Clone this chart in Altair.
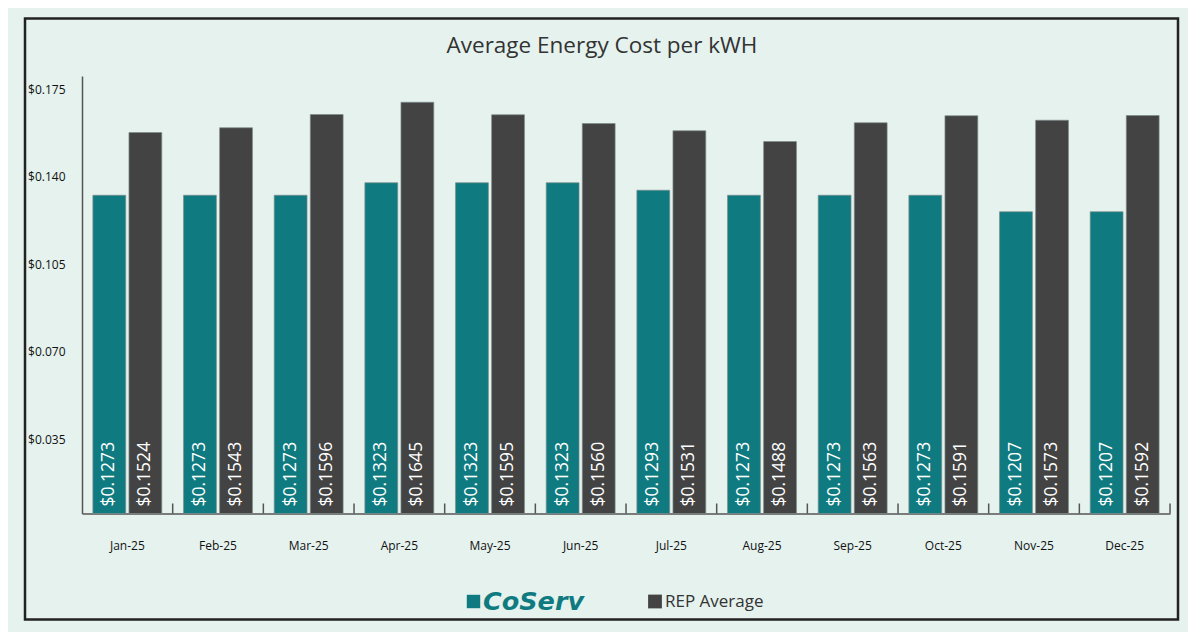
import altair as alt
import pandas as pd

months = ["Jan-25", "Feb-25", "Mar-25", "Apr-25", "May-25", "Jun-25",
          "Jul-25", "Aug-25", "Sep-25", "Oct-25", "Nov-25", "Dec-25"]
coserv = [0.1273, 0.1273, 0.1273, 0.1323, 0.1323, 0.1323,
          0.1293, 0.1273, 0.1273, 0.1273, 0.1207, 0.1207]
rep = [0.1524, 0.1543, 0.1596, 0.1645, 0.1595, 0.1560,
       0.1531, 0.1488, 0.1563, 0.1591, 0.1573, 0.1592]
series = ["CoServ", "REP Average"]
y_ticks = [0.035, 0.070, 0.105, 0.140, 0.175]

TEAL = "#0f7b80"
DARK = "#434343"
BG = "#e5f2ee"
FONT = "Open Sans"

rows = []
for m, c, r in zip(months, coserv, rep):
    rows.append({"month": m, "series": series[0], "value": c, "zero": 0})
    rows.append({"month": m, "series": series[1], "value": r, "zero": 0})
df = pd.DataFrame(rows)

W, H = 1088, 437.5

xenc = alt.X("month:N", sort=months, title=None,
             scale=alt.Scale(paddingInner=0.24, paddingOuter=0.12),
             axis=alt.Axis(labelAngle=0, ticks=False, domainColor="#555555",
                           domainWidth=1.5, labelPadding=27, labelFontSize=12,
                           labelColor="#111111", labelFont=FONT))
xoff = alt.XOffset("series:N", sort=series, scale=alt.Scale(paddingInner=0.09))
color = alt.Color("series:N", sort=series,
                  scale=alt.Scale(domain=series, range=[TEAL, DARK]), legend=None)

bars = alt.Chart(df).mark_bar(stroke="#7d8d8b", strokeWidth=0.7).encode(
    x=xenc,
    xOffset=xoff,
    y=alt.Y("value:Q", title=None,
            scale=alt.Scale(domain=[0, 0.175], nice=False, zero=True),
            axis=alt.Axis(values=y_ticks, format="$.3f", grid=False, ticks=False,
                          labelPadding=17, labelOffset=13, labelFontSize=12,
                          labelColor="#111111", labelFont=FONT, labelFontWeight=500,
                          domainColor="#555555", domainWidth=1.5)),
    color=color,
)

labels = alt.Chart(df).mark_text(angle=270, align="left", baseline="middle",
                                 dx=7, color="white", fontSize=17.5, font=FONT).encode(
    x=alt.X("month:N", sort=months),
    xOffset=xoff,
    y=alt.Y("zero:Q"),
    text=alt.Text("value:Q", format="$.4f"),
)

tick_df = pd.DataFrame({"month": months})
ticks = alt.Chart(tick_df).mark_rule(color="#555555", strokeWidth=1.5, xOffset=10.9).encode(
    x=alt.X("month:N", sort=months, bandPosition=1),
    y=alt.value(H - 10),
    y2=alt.value(H),
)

one = pd.DataFrame({"a": [0]})
border = alt.Chart(one).mark_rect(fill=None, stroke="#222222", strokeWidth=2.5).encode(
    x=alt.value(-57), x2=alt.value(1096), y=alt.value(-57.5), y2=alt.value(543.5)
)

title = alt.Chart(one).mark_text(text="Average Energy Cost per kWH", fontSize=22.5,
                                 font=FONT, color="#333333", align="center",
                                 baseline="middle").encode(
    x=alt.value(520), y=alt.value(-30)
)

leg_sq1 = alt.Chart(one).mark_square(size=180, color=TEAL, opacity=1).encode(
    x=alt.value(391.5), y=alt.value(525.5))
leg_sq2 = alt.Chart(one).mark_square(size=190, color=DARK, opacity=1).encode(
    x=alt.value(573), y=alt.value(525.5))
leg_t1 = alt.Chart(one).mark_text(text="CoServ", fontSize=25.5, fontWeight="bold",
                                  fontStyle="italic", font="DejaVu Sans", color=TEAL,
                                  align="left", baseline="middle").encode(
    x=alt.value(401), y=alt.value(525.5))
leg_t2 = alt.Chart(one).mark_text(text="REP Average", fontSize=17, font=FONT,
                                  color="#333333", align="left",
                                  baseline="middle").encode(
    x=alt.value(583), y=alt.value(525.5))

chart = alt.layer(border, bars, labels, ticks, title, leg_sq1, leg_sq2, leg_t1, leg_t2).properties(
    width=W, height=H, background=BG,
    padding={"left": 15, "top": 9, "right": 8, "bottom": 10},
).configure_view(strokeWidth=0)

chart.save("out.html", embed_options={"renderer": "svg", "actions": False})
